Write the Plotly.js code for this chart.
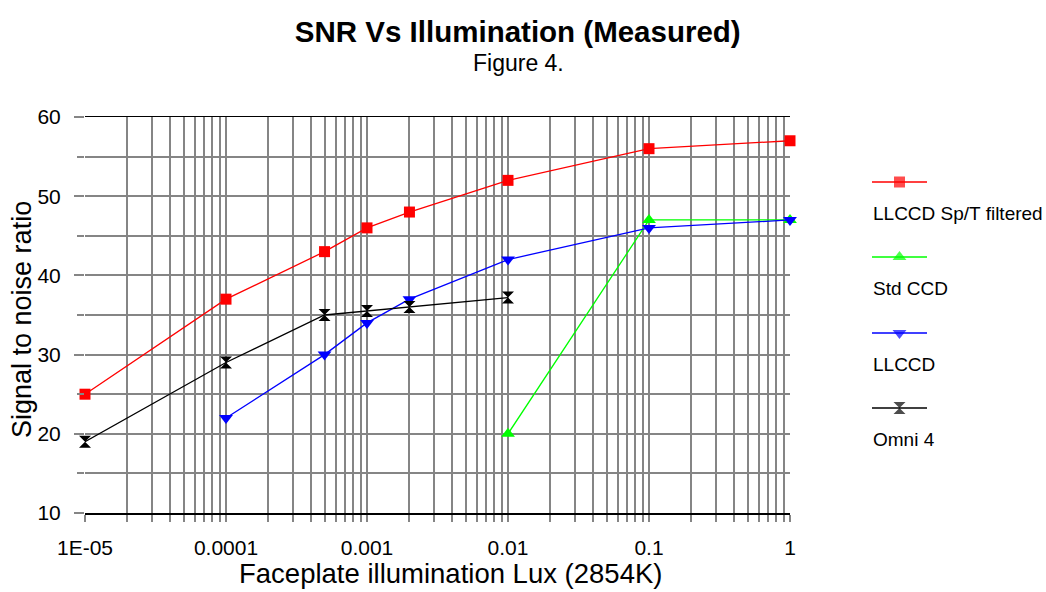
<!DOCTYPE html>
<html>
<head>
<meta charset="utf-8">
<script src="https://cdn.plot.ly/plotly-3.0.1.min.js"></script>
<style>html,body{margin:0;padding:0;background:#fff;}#chart{width:1046px;height:592px;}</style>
</head>
<body>
<div id="chart"></div>
<script>
// ---- data ----
const seriesNames = ["LLCCD Sp/T filtered", "Std CCD", "LLCCD", "Omni 4"];
const redX = [1e-5, 1e-4, 5e-4, 1e-3, 2e-3, 1e-2, 0.1, 1];
const redY = [25, 37, 43, 46, 48, 52, 56, 57];
const greenX = [0.01, 0.1, 1];
const greenY = [20, 47, 47];
const blueX = [1e-4, 5e-4, 1e-3, 2e-3, 1e-2, 0.1, 1];
const blueY = [22, 30, 34, 37, 42, 46, 47];
const blackX = [1e-5, 1e-4, 5e-4, 1e-3, 2e-3, 1e-2];
const blackY = [19, 29, 35, 35.5, 36, 37.2];
const xTickVals = [1e-5, 1e-4, 1e-3, 1e-2, 0.1, 1];
const xTickText = ["1E-05", "0.0001", "0.001", "0.01", "0.1", "1"];
const yTickVals = [10, 20, 30, 40, 50, 60];

// ---- styles ----
const FONT = "Liberation Sans, Arial, sans-serif";
const GRID = "#858585";
const colors = ["#ff0000", "#00ff00", "#0000ff", "#000000"];
const symbols = ["square", "triangle-up", "triangle-down", "hourglass"];
const sizes = [11, 12, 12, 12];
const xs = [redX, greenX, blueX, blackX];
const ys = [redY, greenY, blueY, blackY];

const minorX = [];
for (let e = -5; e < 0; e++) for (let d = 2; d <= 9; d++) minorX.push(d * Math.pow(10, e));

const traces = [];
for (let i = 0; i < 4; i++) {
  traces.push({
    x: xs[i], y: ys[i], type: "scatter", mode: "lines+markers", name: seriesNames[i],
    line: {color: colors[i], width: 1.3},
    marker: {symbol: symbols[i], size: sizes[i], color: colors[i], line: {width: 0}},
    showlegend: false, cliponaxis: false
  });
}

// plot area in px: x 85..790, y 117..513 ; paper spans 85..1036
const PW = 951, PH = 396;
const annotations = [
  {text: "Figure 4.", xref: "paper", yref: "paper", x: (518 - 85) / PW, y: 1, yanchor: "middle",
   xanchor: "center", showarrow: false, font: {family: FONT, size: 23, color: "#000"}, yshift: 117 - 63},
  {text: "Signal to noise ratio", xref: "paper", yref: "paper", x: (22 - 85) / PW, y: (513 - 320) / PH,
   xanchor: "center", yanchor: "middle", textangle: -90, showarrow: false,
   font: {family: FONT, size: 27, color: "#000"}},
  {text: "Faceplate illumination Lux (2854K)", xref: "paper", yref: "paper", x: (450 - 85) / PW, y: 0,
   xanchor: "center", yanchor: "middle", yshift: -(573 - 513), showarrow: false,
   font: {family: FONT, size: 27.5, color: "#000"}}
];
// custom legend (symbol line above, text below)
const legPx = [182, 257, 333, 408];
for (let i = 0; i < 4; i++) {
  const v = (513 - legPx[i]) / PH;
  traces.push({
    x: [0, 0.5, 1], y: [v, v, v], xaxis: "x2", yaxis: "y2",
    type: "scatter", mode: "lines+markers", showlegend: false, hoverinfo: "skip",
    line: {color: colors[i], width: 1.3},
    marker: {symbol: symbols[i], size: [0, sizes[i], 0], color: colors[i], line: {width: 0}},
    cliponaxis: false
  });
  annotations.push({
    text: seriesNames[i], xref: "x2", yref: "y2", x: 0, y: v, xanchor: "left", yanchor: "middle",
    xshift: -1, yshift: -31, showarrow: false, font: {family: FONT, size: 19, color: "#000"}
  });
}

const layout = {
  width: 1046, height: 592,
  margin: {l: 85, r: 10, t: 117, b: 79},
  paper_bgcolor: "#fff", plot_bgcolor: "#fff",
  font: {family: FONT, color: "#000"},
  title: {
    text: "<b>SNR Vs Illumination (Measured)</b>",
    font: {family: FONT, size: 29.5, color: "#000"},
    x: 0.495, xanchor: "center", y: 0.947, yanchor: "middle", xref: "container", yref: "container"
  },
  xaxis: {
    domain: [0, 705 / PW],
    type: "log", range: [-5, 0], tickvals: xTickVals, ticktext: xTickText,
    tickfont: {size: 21}, ticks: "outside", ticklen: 7, tickcolor: GRID, tickwidth: 2,
    ticklabelstandoff: 8,
    showgrid: true, gridcolor: GRID, gridwidth: 2,
    minor: {tickvals: minorX, showgrid: true, gridcolor: GRID, gridwidth: 2, ticks: "outside", ticklen: 7, tickcolor: GRID, tickwidth: 2},
    showline: true, linecolor: "#000", linewidth: 1.5, mirror: true, zeroline: false,
    fixedrange: true
  },
  yaxis: {
    range: [10, 60], tickvals: yTickVals, tickfont: {size: 21},
    ticks: "outside", ticklen: 10, tickcolor: GRID, tickwidth: 2,
    ticklabelstandoff: 9,
    showgrid: true, gridcolor: GRID, gridwidth: 2,
    minor: {dtick: 5, showgrid: true, gridcolor: GRID, gridwidth: 2, ticks: "outside", ticklen: 7, tickcolor: GRID, tickwidth: 2},
    showline: false, zeroline: false,
    fixedrange: true
  },
  xaxis2: {domain: [(872 - 85) / PW, (927 - 85) / PW], range: [0, 1], visible: false, anchor: "y2", fixedrange: true},
  yaxis2: {domain: [0, 1], range: [0, 1], visible: false, anchor: "x2", fixedrange: true},
  annotations: annotations,
  showlegend: false
};
Plotly.newPlot("chart", traces, layout, {displayModeBar: false, staticPlot: true});
</script>
</body>
</html>
